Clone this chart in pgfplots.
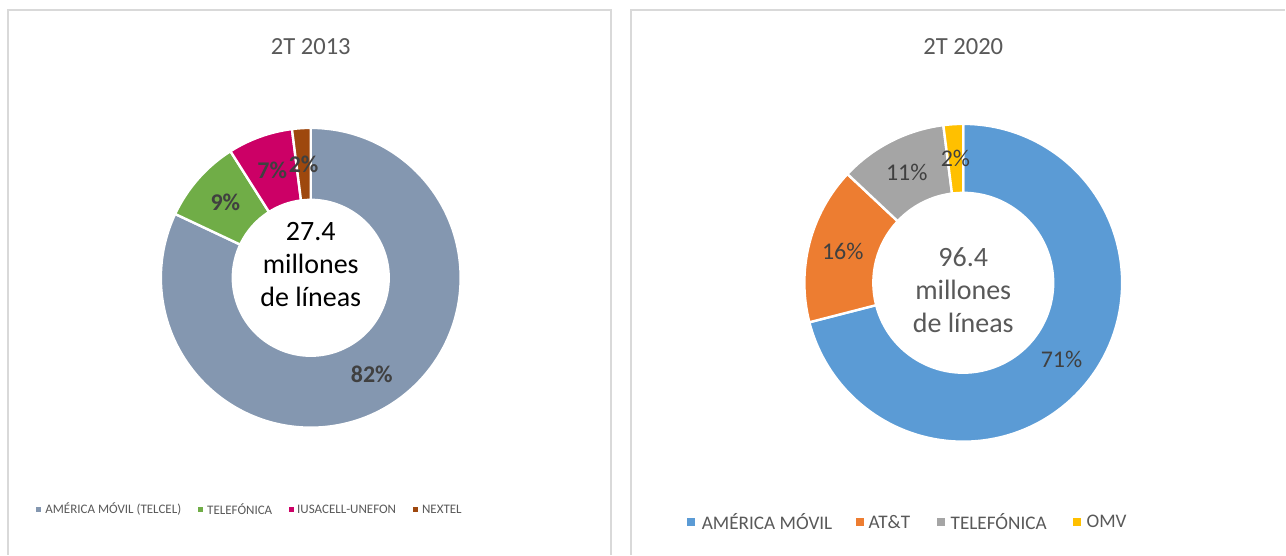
\documentclass[border=0pt]{standalone}
\usepackage{pgfplots}
\usepackage{pgfplotstable}
\usepackage{fontspec}
\setmainfont{Carlito}
\pgfplotsset{compat=1.18}

\definecolor{amvA}{HTML}{8497B0}
\definecolor{telA}{HTML}{70AD47}
\definecolor{iusA}{HTML}{CC0066}
\definecolor{nexA}{HTML}{9E480E}
\definecolor{amvB}{HTML}{5B9BD5}
\definecolor{attB}{HTML}{ED7D31}
\definecolor{telB}{HTML}{A5A5A5}
\definecolor{omvB}{HTML}{FFC000}
\definecolor{txt}{HTML}{595959}
\definecolor{lbl}{HTML}{404040}
\definecolor{frame}{HTML}{D9D9D9}

% shares in percent, clockwise from 12 o'clock
\pgfplotstableread{
share color
82 amvA
9  telA
7  iusA
2  nexA
}\dataA
\pgfplotstableread{
share color
71 amvB
16 attB
11 telB
2  omvB
}\dataB

\tikzset{
  lblA/.style={text=lbl, font=\bfseries\fontsize{12}{14}\selectfont},
  lblB/.style={text=lbl, font=\fontsize{12}{14}\selectfont},
}

% #1 table, #2 cx, #3 cy, #4 inner r, #5 outer r (px), #6 label style
\newcommand\donut[6]{%
  \def\angA{90}%
  \pgfmathsetmacro\ri{#4*0.5}%
  \pgfmathsetmacro\ro{#5*0.5}%
  \pgfmathsetmacro\rm{(#4+#5)*0.25}%
  \pgfplotstablegetrowsof{#1}%
  \pgfmathtruncatemacro\nrows{\pgfplotsretval-1}%
  \pgfplotsforeachungrouped \i in {0,...,\nrows}{%
    \pgfplotstablegetelem{\i}{share}\of{#1}\let\sh\pgfplotsretval
    \pgfplotstablegetelem{\i}{color}\of{#1}\let\cl\pgfplotsretval
    \pgfmathsetmacro\angB{\angA-3.6*\sh}%
    \pgfmathsetmacro\angM{(\angA+\angB)/2}%
    \edef\temp{\noexpand\fill[\cl, draw=white, line width=1.2pt, line join=round]
      ([shift={(\angA:\ro pt)}]axis cs:#2,#3)
      arc[start angle=\angA, end angle=\angB, radius=\ro pt]
      -- ([shift={(\angB:\ri pt)}]axis cs:#2,#3)
      arc[start angle=\angB, end angle=\angA, radius=\ri pt] -- cycle;}%
    \temp
    \edef\temp{\noexpand\node[#6] at ([shift={(\angM:\rm pt)}]axis cs:#2,#3) {\sh\noexpand\%};}%
    \temp
    \let\angA\angB
  }%
}

\begin{document}
\begin{tikzpicture}
\begin{axis}[
  x=0.5pt, y=0.5pt,
  xmin=0, xmax=1286, ymin=0, ymax=555,
  hide axis, clip=false,
]
\fill[white] (axis cs:0,0) rectangle (axis cs:1286,555);

% panel frames
\draw[frame, line width=1pt] (axis cs:8,0) -- (axis cs:8,545) -- (axis cs:611,545) -- (axis cs:611,0);
\draw[frame, line width=1pt] (axis cs:631,0) -- (axis cs:631,545) -- (axis cs:1286,545);

% titles
\node[text=txt, font=\fontsize{12.3}{14}\selectfont] at (axis cs:311,508) {2T 2013};
\node[text=txt, font=\fontsize{12.3}{14}\selectfont] at (axis cs:964,508) {2T 2020};

% donuts
\donut{\dataA}{311}{277}{78}{150}{lblA}
\donut{\dataB}{964}{272}{90}{159}{lblB}

% centre texts
\node[text=black, align=center, font=\fontsize{14}{16.5}\selectfont] at (axis cs:311,290) {27.4\\millones\\de líneas};
\node[text=txt, align=center, font=\fontsize{14}{16.5}\selectfont] at (axis cs:964,265) {96.4\\millones\\de líneas};

% legend 2013
\fill[amvA] (axis cs:36,43) rectangle (axis cs:41,48);
\node[anchor=west, inner sep=0pt, text=txt, font=\fontsize{6.5}{8}\selectfont] at (axis cs:45,45.5) {AMÉRICA MÓVIL (TELCEL)};
\fill[telA] (axis cs:198,43) rectangle (axis cs:203,48);
\node[anchor=west, inner sep=0pt, text=txt, font=\fontsize{6.5}{8}\selectfont] at (axis cs:207,45.5) {TELEFÓNICA};
\fill[iusA] (axis cs:289,43) rectangle (axis cs:294,48);
\node[anchor=west, inner sep=0pt, text=txt, font=\fontsize{6.5}{8}\selectfont] at (axis cs:297,45.5) {IUSACELL-UNEFON};
\fill[nexA] (axis cs:413,43) rectangle (axis cs:418,48);
\node[anchor=west, inner sep=0pt, text=txt, font=\fontsize{6.5}{8}\selectfont] at (axis cs:422,45.5) {NEXTEL};

% legend 2020
\fill[amvB] (axis cs:688,29) rectangle (axis cs:696,37);
\node[anchor=west, inner sep=0pt, text=txt, font=\fontsize{9.6}{11}\selectfont] at (axis cs:702,33) {AMÉRICA MÓVIL};
\fill[attB] (axis cs:857,29) rectangle (axis cs:865,37);
\node[anchor=west, inner sep=0pt, text=txt, font=\fontsize{9.6}{11}\selectfont] at (axis cs:869,33) {AT\&T};
\fill[telB] (axis cs:938,29) rectangle (axis cs:946,37);
\node[anchor=west, inner sep=0pt, text=txt, font=\fontsize{9.6}{11}\selectfont] at (axis cs:951,33) {TELEFÓNICA};
\fill[omvB] (axis cs:1074,29) rectangle (axis cs:1082,37);
\node[anchor=west, inner sep=0pt, text=txt, font=\fontsize{9.6}{11}\selectfont] at (axis cs:1087,33) {OMV};
\end{axis}
\end{tikzpicture}
\end{document}
